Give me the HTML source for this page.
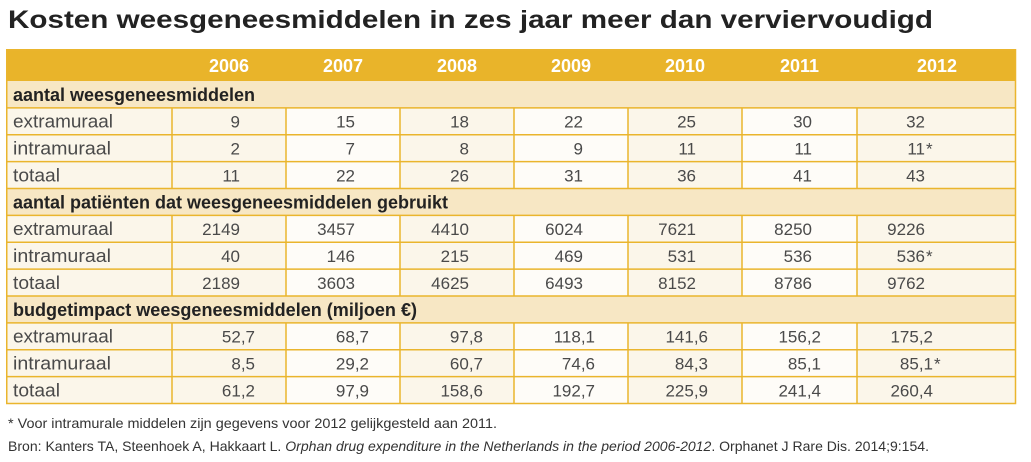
<!DOCTYPE html>
<html><head><meta charset="utf-8"><style>
html,body{margin:0;padding:0;background:#fff;width:1031px;height:462px;overflow:hidden}
svg{display:block}
.lbl{font-family:"Liberation Sans",sans-serif;font-size:18.5px;fill:#4a4a4a}
.num{font-family:"Liberation Sans",sans-serif;font-size:17px;fill:#4a4a4a;text-anchor:end}
.ast{font-family:"Liberation Sans",sans-serif;font-size:17px;fill:#4a4a4a}
.sec{font-family:"Liberation Sans",sans-serif;font-size:18px;font-weight:bold;fill:#222}
.yr{font-family:"Liberation Sans",sans-serif;font-size:18px;font-weight:bold;fill:#fff;text-anchor:middle}
.ft{font-family:"Liberation Sans",sans-serif;font-size:14px;fill:#333}
</style></head><body>
<svg width="1031" height="462" viewBox="0 0 1031 462" xmlns="http://www.w3.org/2000/svg">
<text x="8" y="28" font-family="Liberation Sans, sans-serif" font-size="25" font-weight="bold" fill="#222" textLength="925" lengthAdjust="spacingAndGlyphs">Kosten weesgeneesmiddelen in zes jaar meer dan verviervoudigd</text>

<rect x="6" y="49" width="1010" height="355" fill="#fbf6ea"/>
<rect x="286" y="81" width="114" height="323" fill="#fefcf8"/>
<rect x="514" y="81" width="114" height="323" fill="#fefcf8"/>
<rect x="742" y="81" width="115" height="323" fill="#fefcf8"/>
<rect x="6" y="49" width="1010" height="32" fill="#e9b42a"/>
<rect x="6" y="81" width="1010" height="26.9" fill="#f7e7c4"/>
<rect x="6" y="188.5" width="1010" height="26.9" fill="#f7e7c4"/>
<rect x="6" y="296" width="1010" height="26.9" fill="#f7e7c4"/>

<g stroke="#eab52d" stroke-width="1.5" fill="none">
<line x1="6" y1="107.9" x2="1016" y2="107.9"/>
<line x1="6" y1="134.75" x2="1016" y2="134.75"/>
<line x1="6" y1="161.6" x2="1016" y2="161.6"/>
<line x1="6" y1="188.5" x2="1016" y2="188.5"/>
<line x1="6" y1="215.4" x2="1016" y2="215.4"/>
<line x1="6" y1="242.25" x2="1016" y2="242.25"/>
<line x1="6" y1="269.1" x2="1016" y2="269.1"/>
<line x1="6" y1="296" x2="1016" y2="296"/>
<line x1="6" y1="322.9" x2="1016" y2="322.9"/>
<line x1="6" y1="349.75" x2="1016" y2="349.75"/>
<line x1="6" y1="376.6" x2="1016" y2="376.6"/>
<path d="M172 107.9V188.5M286 107.9V188.5M400 107.9V188.5M514 107.9V188.5M628 107.9V188.5M742 107.9V188.5M857 107.9V188.5"/>
<path d="M172 215.4V296M286 215.4V296M400 215.4V296M514 215.4V296M628 215.4V296M742 215.4V296M857 215.4V296"/>
<path d="M172 322.9V403.5M286 322.9V403.5M400 322.9V403.5M514 322.9V403.5M628 322.9V403.5M742 322.9V403.5M857 322.9V403.5"/>
<rect x="6.75" y="49.75" width="1008.75" height="353.75"/>
</g>

<text class="yr" x="229" y="72">2006</text>
<text class="yr" x="343" y="72">2007</text>
<text class="yr" x="457" y="72">2008</text>
<text class="yr" x="571" y="72">2009</text>
<text class="yr" x="685" y="72">2010</text>
<text class="yr" x="799.5" y="72">2011</text>
<text class="yr" x="937" y="72">2012</text>

<text class="sec" x="13" y="101" textLength="242" lengthAdjust="spacingAndGlyphs">aantal weesgeneesmiddelen</text>
<text class="sec" x="13" y="208.3" textLength="435" lengthAdjust="spacingAndGlyphs">aantal patiënten dat weesgeneesmiddelen gebruikt</text>
<text class="sec" x="13" y="315.8" textLength="404" lengthAdjust="spacingAndGlyphs">budgetimpact weesgeneesmiddelen (miljoen €)</text>

<text class="lbl" x="13" y="127.7" textLength="100" lengthAdjust="spacingAndGlyphs">extramuraal</text>
<text class="lbl" x="13" y="154.6" textLength="98" lengthAdjust="spacingAndGlyphs">intramuraal</text>
<text class="lbl" x="13" y="181.4" textLength="47" lengthAdjust="spacingAndGlyphs">totaal</text>
<text class="lbl" x="13" y="235.2" textLength="100" lengthAdjust="spacingAndGlyphs">extramuraal</text>
<text class="lbl" x="13" y="262.1" textLength="98" lengthAdjust="spacingAndGlyphs">intramuraal</text>
<text class="lbl" x="13" y="288.9" textLength="47" lengthAdjust="spacingAndGlyphs">totaal</text>
<text class="lbl" x="13" y="342.7" textLength="100" lengthAdjust="spacingAndGlyphs">extramuraal</text>
<text class="lbl" x="13" y="369.6" textLength="98" lengthAdjust="spacingAndGlyphs">intramuraal</text>
<text class="lbl" x="13" y="396.4" textLength="47" lengthAdjust="spacingAndGlyphs">totaal</text>

<g>
<text class="num" x="240" y="127.7">9</text><text class="num" x="355" y="127.7">15</text><text class="num" x="469" y="127.7">18</text><text class="num" x="583" y="127.7">22</text><text class="num" x="696" y="127.7">25</text><text class="num" x="812" y="127.7">30</text><text class="num" x="925" y="127.7">32</text>
<text class="num" x="240" y="154.6">2</text><text class="num" x="355" y="154.6">7</text><text class="num" x="469" y="154.6">8</text><text class="num" x="583" y="154.6">9</text><text class="num" x="696" y="154.6">11</text><text class="num" x="812" y="154.6">11</text><text class="num" x="925" y="154.6">11</text>
<text class="num" x="240" y="181.4">11</text><text class="num" x="355" y="181.4">22</text><text class="num" x="469" y="181.4">26</text><text class="num" x="583" y="181.4">31</text><text class="num" x="696" y="181.4">36</text><text class="num" x="812" y="181.4">41</text><text class="num" x="925" y="181.4">43</text>

<text class="num" x="240" y="235.2">2149</text><text class="num" x="355" y="235.2">3457</text><text class="num" x="469" y="235.2">4410</text><text class="num" x="583" y="235.2">6024</text><text class="num" x="696" y="235.2">7621</text><text class="num" x="812" y="235.2">8250</text><text class="num" x="925" y="235.2">9226</text>
<text class="num" x="240" y="262.1">40</text><text class="num" x="355" y="262.1">146</text><text class="num" x="469" y="262.1">215</text><text class="num" x="583" y="262.1">469</text><text class="num" x="696" y="262.1">531</text><text class="num" x="812" y="262.1">536</text><text class="num" x="925" y="262.1">536</text>
<text class="num" x="240" y="288.9">2189</text><text class="num" x="355" y="288.9">3603</text><text class="num" x="469" y="288.9">4625</text><text class="num" x="583" y="288.9">6493</text><text class="num" x="696" y="288.9">8152</text><text class="num" x="812" y="288.9">8786</text><text class="num" x="925" y="288.9">9762</text>

<text class="num" x="255" y="342.7">52,7</text><text class="num" x="369" y="342.7">68,7</text><text class="num" x="483" y="342.7">97,8</text><text class="num" x="595" y="342.7">118,1</text><text class="num" x="708" y="342.7">141,6</text><text class="num" x="821" y="342.7">156,2</text><text class="num" x="933" y="342.7">175,2</text>
<text class="num" x="255" y="369.6">8,5</text><text class="num" x="369" y="369.6">29,2</text><text class="num" x="483" y="369.6">60,7</text><text class="num" x="595" y="369.6">74,6</text><text class="num" x="708" y="369.6">84,3</text><text class="num" x="821" y="369.6">85,1</text><text class="num" x="933" y="369.6">85,1</text>
<text class="num" x="255" y="396.4">61,2</text><text class="num" x="369" y="396.4">97,9</text><text class="num" x="483" y="396.4">158,6</text><text class="num" x="595" y="396.4">192,7</text><text class="num" x="708" y="396.4">225,9</text><text class="num" x="821" y="396.4">241,4</text><text class="num" x="933" y="396.4">260,4</text>
</g>
<text class="ast" x="926" y="154.6">*</text>
<text class="ast" x="926" y="262.1">*</text>
<text class="ast" x="934" y="369.6">*</text>

<text class="ft" x="8" y="428" textLength="489" lengthAdjust="spacingAndGlyphs">* Voor intramurale middelen zijn gegevens voor 2012 gelijkgesteld aan 2011.</text>
<text class="ft" x="8" y="451" textLength="921" lengthAdjust="spacingAndGlyphs">Bron: Kanters TA, Steenhoek A, Hakkaart L. <tspan font-style="italic">Orphan drug expenditure in the Netherlands in the period 2006-2012</tspan>. Orphanet J Rare Dis. 2014;9:154.</text>
</svg>
</body></html>
